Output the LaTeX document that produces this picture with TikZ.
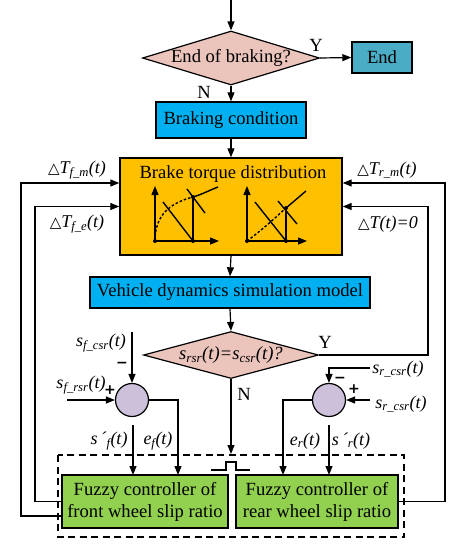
\documentclass[tikz,border=0pt]{standalone}
\usepackage{fontspec}
\setmainfont{Liberation Serif}
\newfontfamily\dvs{DejaVu Sans}
\usetikzlibrary{shapes.geometric,arrows.meta,calc}
\definecolor{cpink}{HTML}{EBC4BC}
\definecolor{cteal}{HTML}{4BACC6}
\definecolor{cblue}{HTML}{00B0F0}
\definecolor{corange}{HTML}{FFC000}
\definecolor{cgreen}{HTML}{92D050}
\definecolor{clav}{HTML}{CCC0DA}
\newcommand{\mysub}[1]{\textsubscript{#1}}
\newcommand{\tri}{{\dvs\fontsize{15}{15}\selectfont △}}
\begin{document}
\begin{tikzpicture}[x=1pt,y=-1pt,
  every node/.style={font=\fontsize{18.6}{22}\selectfont},
  arr/.style={-{Triangle[length=9pt,width=7pt]},line width=1.2pt},
  ln/.style={line width=1.2pt},
  boxs/.style={draw,line width=1.4pt,rectangle,inner sep=0pt,align=center},
  dia/.style={draw,line width=1.2pt,diamond,fill=cpink,inner sep=0pt},
  sumc/.style={draw,line width=1.2pt,circle,fill=clav,minimum size=33pt,inner sep=0pt},
  lbl/.style={inner sep=0pt,font=\fontsize{18}{22}\selectfont\itshape},
  sgn/.style={inner sep=0pt,font=\dvs\bfseries\fontsize{14}{14}\selectfont},
  gr/.style={line width=1.4pt},
  gtip/.style={-{Triangle[length=9pt,width=7pt]},line width=1.4pt},
  dot/.style={circle,fill=black,inner sep=0pt,minimum size=4pt}
]
\useasboundingbox (0,0) rectangle (461,550);

% nodes
\coordinate (start) at (231,0);
\node[dia,minimum width=177pt,minimum height=54pt] (d1) at (231,58) {\makebox[0pt]{End of braking?}};
\node[boxs,fill=cteal,minimum width=60pt,minimum height=31pt] (end) at (382,57.5) {End};
\node[boxs,fill=cblue,minimum width=150pt,minimum height=36pt] (bc) at (231,120) {Braking condition};
\node[boxs,fill=corange,minimum width=222pt,minimum height=97pt] (btd) at (231,206.5) {};
\node[inner sep=0pt] (btdt) at (233,174) {Brake torque distribution};
\node[boxs,fill=cblue,minimum width=280pt,minimum height=31pt] (vd) at (230,292.5) {Vehicle dynamics simulation model};
\node[dia,minimum width=175pt,minimum height=47pt] (d2) at (231,355) {\makebox[0pt]{\itshape s\mysub{rsr}(t)=s\mysub{csr}(t)?}};
\node[sumc] (sl) at (132,400) {};
\node[sumc] (sr) at (329,400) {};
\node[boxs,fill=cgreen,minimum width=166pt,minimum height=53pt] (ff) at (145,501.5) {Fuzzy controller of\\front wheel slip ratio};
\node[boxs,fill=cgreen,minimum width=162pt,minimum height=53pt] (rf) at (317,501.5) {Fuzzy controller of\\rear wheel slip ratio};

% dashed frame and bridge
\draw[line width=1.2pt,dash pattern=on 7pt off 4.5pt] (58,455) rectangle (404,537);
\draw[ln] (211,470) -- (226,470) -- (226,462) -- (236,462) -- (236,470) -- (250,470);

% main flow
\draw[arr] (start) -- (d1.north);
\draw[arr] (d1.east) -- (end.west);
\node[inner sep=0pt] (ylab1) at (316,45) {Y};
\draw[arr] (d1.south) -- (bc.north);
\node[inner sep=0pt] (nlab1) at (204,92) {N};
\draw[arr] (bc.south) -- (btd.north);
\draw[arr] (btd.south) -- (vd.north);
\draw[arr] (vd.south) -- (d2.north);
\coordinate (yret) at (428,206.5);
\draw[arr] (d2.east) -| (yret) -- (btd.east);
\node[inner sep=0pt] (ylab2) at (325,342) {Y};
\coordinate (nend) at (231,454);
\draw[arr] (d2.south) -- (nend);
\node[inner sep=0pt] (nlab2) at (244,394) {N};

% feedback loops
\coordinate (lin) at (35,206.5);
\draw[arr] (ff.west) -| (lin) -- (btd.west);
\coordinate (lout) at (21,183);
\draw[arr] ([yshift=-14.5pt]ff.west) -| (lout) -- ([yshift=23.5pt]btd.west);
\coordinate (rout) at (445,183);
\draw[arr] (rf.east) -| (rout) -- ([yshift=23.5pt]btd.east);

\node[lbl] (tfm) at (77,170) {\tri T\mysub{f\_m}(t)};
\node[lbl] (tfe) at (77,224) {\tri T\mysub{f\_e}(t)};
\node[lbl] (trm) at (387,170) {\tri T\mysub{r\_m}(t)};
\node[lbl] (tz) at (388,224) {\tri T(t)=0};

% left summing junction
\coordinate (slin1) at (132,332);
\draw[arr] (slin1) -- (sl.north);
\coordinate (slin2) at (67,400);
\draw[arr] (slin2) -- (sl.west);
\coordinate (efin) at (178,475);
\draw[arr] (sl.east) -| (efin);
\coordinate (sfs) at (133,425);
\coordinate (sfe) at (133,475);
\draw[arr] (sfs) -- (sfe);
\node[lbl] (sfc) at (101,343) {s\mysub{f\_csr}(t)};
\node[sgn] (m1) at (122,365) {−};
\node[lbl] (sfr) at (81,385) {s\mysub{f\_rsr}(t)};
\node[sgn] (p1) at (110,390) {+};
\node[lbl] (spf) at (109,441) {s\,´\mysub{f}(t)};
\node[lbl] (ef) at (158,441) {e\mysub{f}(t)};

% right summing junction
\coordinate (srin1) at (370,368);
\draw[arr] (srin1) -| (sr.north);
\coordinate (srin2) at (370,400);
\draw[arr] (srin2) -- (sr.east);
\coordinate (erin) at (283,475);
\draw[arr] (sr.west) -| (erin);
\coordinate (srs) at (329,425);
\coordinate (sre) at (329,475);
\draw[arr] (srs) -- (sre);
\node[lbl] (src1) at (398,369) {s\mysub{r\_csr}(t)};
\node[sgn] (m2) at (340,380) {−};
\node[sgn] (p2) at (354,389) {+};
\node[lbl] (src2) at (401,404) {s\mysub{r\_csr}(t)};
\node[lbl] (er) at (305,441) {e\mysub{r}(t)};
\node[lbl] (spr) at (351,441) {s\,´\mysub{r}(t)};

% inset graphs
\draw[gtip] (155,241) -- (155,186);
\draw[gtip] (155,241) -- (219,241);
\draw[gr] (193,241) -- (193,197);
\draw[gr] (163,202) -- (193,241);
\draw[gr] (187,189) -- (205,213);
\draw[gr,dash pattern=on 2.5pt off 2pt] (155,241) .. controls (155,215) and (170,203) .. (193,197);
\draw[gr] (193,197) .. controls (203,194) and (210,190) .. (218,187);
\node[dot] (g1a) at (155,241) {};
\node[dot] (g1b) at (193,241) {};
\node[dot] (g1c) at (193,197) {};

\draw[gtip] (247,241) -- (247,186);
\draw[gtip] (247,241) -- (307,241);
\draw[gr] (286,241) -- (286,208);
\draw[gr] (255,202) -- (286,241);
\draw[gr] (278,201) -- (297,224);
\draw[gr] (286,208) -- (306,191);
\draw[gr,dash pattern=on 2.5pt off 2pt] (247,241) .. controls (262,230) and (275,218) .. (286,208);
\node[dot] (g2a) at (247,241) {};
\node[dot] (g2b) at (286,241) {};
\node[dot] (g2c) at (286,208) {};
\end{tikzpicture}
\end{document}
